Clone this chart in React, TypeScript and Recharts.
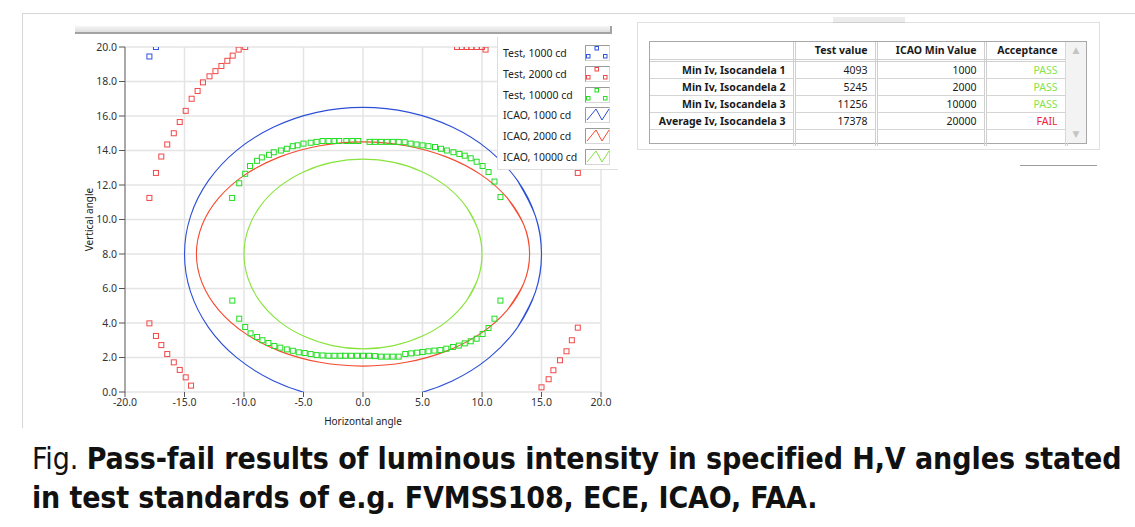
import { ComposedChart, Scatter, Line, XAxis, YAxis, CartesianGrid, Legend } from 'recharts';

// axis ticks
const xTicks = [-20, -15, -10, -5, 0, 5, 10, 15, 20];
const yTicks = [0, 2, 4, 6, 8, 10, 12, 14, 16, 18, 20];

// measured test points [horizontal, vertical]
const test1000: [number, number][] = [
  [-17.95, 19.45], [-17.4, 20.0],
];

const test2000: [number, number][] = [
  [-17.95, 11.25], [-17.4, 12.7], [-16.95, 13.65], [-16.45, 14.35], [-15.9, 15.0], [-15.4, 15.65],
  [-14.9, 16.3], [-14.4, 17.0], [-13.9, 17.45], [-13.45, 17.95], [-12.9, 18.3], [-12.4, 18.6],
  [-11.9, 18.9], [-11.4, 19.2], [-10.95, 19.5], [-10.45, 19.85], [-9.9, 20.0],
  [7.9, 20.0], [8.3, 20.0], [8.7, 20.0], [9.1, 20.0], [9.55, 20.0], [10.0, 20.0], [10.3, 19.85],
  [18.05, 12.7],
  [-17.95, 3.98], [-17.4, 3.25], [-16.95, 2.72], [-16.45, 2.2], [-15.9, 1.72], [-15.4, 1.28],
  [-14.9, 0.85], [-14.45, 0.37],
  [18.05, 3.73], [17.55, 3.0], [17.1, 2.36], [16.55, 1.84], [16.0, 1.26], [15.6, 0.74], [15.0, 0.27],
];

const test10000: [number, number][] = [
  [-11.0, 11.25], [-10.4, 12.1], [-9.9, 12.65], [-9.5, 13.1], [-8.9, 13.4], [-8.5, 13.6],
  [-7.9, 13.75], [-7.5, 13.9], [-6.9, 14.0], [-6.4, 14.1], [-5.9, 14.25], [-5.5, 14.3],
  [-5.0, 14.4], [-4.4, 14.45], [-3.9, 14.5], [-3.4, 14.55], [-2.9, 14.55], [-2.4, 14.55],
  [-2.0, 14.55], [-1.4, 14.55], [-0.9, 14.55], [-0.4, 14.55], [0.55, 14.5], [1.0, 14.5],
  [1.5, 14.5], [2.0, 14.5], [2.5, 14.5], [3.0, 14.5], [3.5, 14.48], [4.0, 14.4], [4.5, 14.35],
  [5.0, 14.3], [5.5, 14.25], [6.05, 14.2], [6.55, 14.1], [7.05, 14.0], [7.6, 13.9], [8.1, 13.8],
  [8.55, 13.7], [9.05, 13.55], [9.55, 13.35], [10.05, 13.1], [10.55, 12.75], [11.05, 12.2],
  [11.55, 11.3],
  [-10.98, 5.3], [-10.4, 4.25], [-9.9, 3.77], [-9.45, 3.4], [-8.9, 3.19], [-8.45, 3.0],
  [-7.95, 2.84], [-7.45, 2.67], [-6.95, 2.57], [-6.4, 2.47], [-5.9, 2.39], [-5.4, 2.3],
  [-4.9, 2.26], [-4.4, 2.2], [-3.9, 2.14], [-3.4, 2.12], [-2.9, 2.1], [-2.4, 2.1], [-1.9, 2.1],
  [-1.5, 2.1], [-1.0, 2.1], [-0.5, 2.1], [0.0, 2.1], [0.5, 2.1], [1.0, 2.08], [1.5, 2.05],
  [2.0, 2.05], [2.5, 2.05], [3.0, 2.05], [3.55, 2.2], [4.05, 2.24], [4.55, 2.28], [5.0, 2.32],
  [5.5, 2.36], [6.0, 2.4], [6.5, 2.43], [7.0, 2.51], [7.55, 2.61], [8.05, 2.69], [8.55, 2.82],
  [9.05, 2.94], [9.55, 3.09], [10.05, 3.36], [10.55, 3.71], [11.05, 4.25], [11.55, 5.3],
];

// ICAO isocandela outlines, read around the curve (the loop overlaps a little at the right side)
const icao1000: [number, number][] = [
  [12.99, 3.75], [14.49, 5.8], [15, 8], [14.49, 10.2], [12.99, 12.25], [10.61, 14.01], [7.5, 15.36],
  [3.88, 16.21], [0, 16.5], [-3.88, 16.21], [-7.5, 15.36], [-10.61, 14.01], [-12.99, 12.25],
  [-14.49, 10.2], [-15, 8], [-14.49, 5.8], [-12.99, 3.75], [-10.61, 1.99], [-7.5, 0.64],
  [-3.88, -0.21], [0, -0.5], [3.88, -0.21], [7.5, 0.64], [10.61, 1.99], [12.99, 3.75],
  [14.49, 5.8], [15, 8], [14.49, 10.2], [12.99, 12.25],
];

const icao2000: [number, number][] = [
  [12.12, 4.75], [13.52, 6.32], [14, 8], [13.52, 9.68], [12.12, 11.25], [9.9, 12.6], [7, 13.63],
  [3.63, 14.28], [0, 14.5], [-3.63, 14.28], [-7, 13.63], [-9.9, 12.6], [-12.12, 11.25],
  [-13.52, 9.68], [-14, 8], [-13.52, 6.32], [-12.12, 4.75], [-9.9, 3.4], [-7, 2.37],
  [-3.63, 1.72], [0, 1.5], [3.63, 1.72], [7, 2.37], [9.9, 3.4], [12.12, 4.75],
  [13.52, 6.32], [14, 8], [13.52, 9.68], [12.12, 11.25],
];

const icao10000: [number, number][] = [
  [8.66, 5.25], [9.66, 6.58], [10, 8], [9.66, 9.42], [8.66, 10.75], [7.07, 11.89], [5, 12.76],
  [2.59, 13.31], [0, 13.5], [-2.59, 13.31], [-5, 12.76], [-7.07, 11.89], [-8.66, 10.75],
  [-9.66, 9.42], [-10, 8], [-9.66, 6.58], [-8.66, 5.25], [-7.07, 4.11], [-5, 3.24],
  [-2.59, 2.69], [0, 2.5], [2.59, 2.69], [5, 3.24], [7.07, 4.11], [8.66, 5.25],
  [9.66, 6.58], [10, 8], [9.66, 9.42], [8.66, 10.75],
];

const seriesNames = ['Test, 1000 cd', 'Test, 2000 cd', 'Test, 10000 cd', 'ICAO, 1000 cd', 'ICAO, 2000 cd', 'ICAO, 10000 cd'];
const seriesColors = ['#2f52e0', '#f04848', '#22dd22', '#2c4fd6', '#f54b30', '#88e43c'];

// result table
const tableHeaders = ['', 'Test value', 'ICAO Min Value', 'Acceptance'];
const rowLabels = ['Min Iv, Isocandela 1', 'Min Iv, Isocandela 2', 'Min Iv, Isocandela 3', 'Average Iv, Isocandela 3'];
const testValues = [4093, 5245, 11256, 17378];
const icaoMinValues = [1000, 2000, 10000, 20000];
const acceptance = ['PASS', 'PASS', 'PASS', 'FAIL'];

const toPoints = (arr: [number, number][]) => arr.map(([x, y]) => ({ x, y }));

const uiFont = "'Noto Sans', 'DejaVu Sans', sans-serif";
const captionFont = "'DejaVu Sans Condensed', 'Liberation Sans Narrow', 'Roboto', sans-serif";

const squareShape = (color: string) => (props: any) => {
  const { cx, cy } = props;
  if (cx == null || cy == null) return <g />;
  return <rect x={cx - 2.5} y={cy - 2.5} width={5} height={5} fill="none" stroke={color} strokeWidth={1} />;
};

const LegendIcon = ({ index }: { index: number }) => {
  const color = seriesColors[index];
  return (
    <svg width={25} height={16} style={{ display: 'block' }}>
      <rect x={0.5} y={0.5} width={24} height={15} fill="#fff" stroke="#d6d6d6" />
      <path d="M0.5 15.5 V0.5 H24.5" fill="none" stroke="#9a9a9a" />
      {index < 3 ? (
        <g fill="none" stroke={color} strokeWidth={1}>
          <rect x={10} y={1.5} width={3.5} height={3.5} />
          <rect x={1.5} y={9.5} width={3.5} height={3.5} />
          <rect x={18.5} y={9.5} width={3.5} height={3.5} />
        </g>
      ) : (
        <polyline points="2,13 11,2 17,13 24,2" fill="none" stroke={color} strokeWidth={1} />
      )}
    </svg>
  );
};

const LegendBox = () => (
  <div style={{ width: 121, height: 133, background: '#fff', borderLeft: '1px solid #dedede', borderBottom: '1px solid #dedede', boxSizing: 'border-box', paddingTop: 6 }}>
    {seriesNames.map((name, i) => (
      <div key={name} style={{ display: 'flex', alignItems: 'center', height: 20.7, position: 'relative' }}>
        <span style={{ position: 'absolute', left: 5, fontFamily: uiFont, fontSize: 10.5, color: '#222', whiteSpace: 'nowrap' }}>{name}</span>
        <span style={{ position: 'absolute', left: 87 }}><LegendIcon index={i} /></span>
      </div>
    ))}
  </div>
);

const YLabel = (props: any) => {
  const vb = props.viewBox || { x: 85, y: 47, height: 345 };
  const cx = vb.x + 4;
  const cy = vb.y + vb.height / 2;
  return (
    <text x={cx} y={cy} transform={`rotate(-90, ${cx}, ${cy})`} textAnchor="middle" dominantBaseline="central" fontSize={10} fill="#222" fontFamily={uiFont}>
      Vertical angle
    </text>
  );
};

const cellBase: React.CSSProperties = {
  fontFamily: uiFont,
  fontSize: 10.5,
  color: '#1a1a1a',
  textAlign: 'right',
  padding: '0 7px 0 0',
  borderRight: '3px double #cfcfcf',
  borderBottom: '1px solid #d4d4d4',
  whiteSpace: 'nowrap',
  overflow: 'hidden',
  height: 16,
  lineHeight: '16px',
};

export default function App() {
  const colWidths = [144, 82, 109, 81];
  return (
    <div style={{ position: 'fixed', left: 0, top: 0, width: 1135, height: 527, background: '#fff', overflow: 'hidden' }}>
      {/* panel frame */}
      <div style={{ position: 'absolute', left: 22, top: 13, width: 1113, borderTop: '1px solid #d6d6d6' }} />
      <div style={{ position: 'absolute', left: 22, top: 13, height: 415, borderLeft: '1px solid #d6d6d6' }} />
      <div style={{ position: 'absolute', left: 75, top: 26, width: 535, height: 6, background: 'linear-gradient(#f6f6f6, #dedede)', borderBottom: '2px solid #a3a3a3', borderRight: '2px solid #a3a3a3' }} />

      <div style={{ position: 'absolute', left: 0, top: 0 }}>
        <ComposedChart width={640} height={432} margin={{ top: 47, right: 39, bottom: 5, left: 85 }}>
          <CartesianGrid stroke="#e4e4e4" strokeWidth={1.5} />
          <XAxis
            type="number"
            dataKey="x"
            domain={[-20, 20]}
            ticks={xTicks}
            tickFormatter={(v: number) => v.toFixed(1)}
            height={35}
            axisLine={false}
            tickLine={{ stroke: '#555' }}
            tickSize={5}
            tick={{ fontSize: 10.5, fill: '#333', fontFamily: uiFont }}
            label={{ value: 'Horizontal angle', position: 'insideBottom', offset: 2, fontSize: 10, fill: '#222', fontFamily: uiFont }}
          />
          <YAxis
            type="number"
            dataKey="y"
            domain={[0, 20]}
            ticks={yTicks}
            allowDataOverflow
            tickFormatter={(v: number) => v.toFixed(1)}
            width={40}
            axisLine={{ stroke: '#a9a9a9', strokeWidth: 2 }}
            tickLine={{ stroke: '#555' }}
            tickSize={6}
            tick={{ fontSize: 10.5, fill: '#333', fontFamily: uiFont }}
            label={{ content: YLabel }}
          />
          <Legend
            layout="horizontal"
            verticalAlign="middle"
            align="center"
            content={() => <LegendBox />}
            wrapperStyle={{ position: 'absolute', left: 497, top: 37, width: 121, height: 133 }}
          />
          <Line name={seriesNames[3]} data={toPoints(icao1000)} dataKey="y" type="natural" stroke={seriesColors[3]} strokeWidth={1.1} dot={false} activeDot={false} isAnimationActive={false} />
          <Line name={seriesNames[4]} data={toPoints(icao2000)} dataKey="y" type="natural" stroke={seriesColors[4]} strokeWidth={1.1} dot={false} activeDot={false} isAnimationActive={false} />
          <Line name={seriesNames[5]} data={toPoints(icao10000)} dataKey="y" type="natural" stroke={seriesColors[5]} strokeWidth={1.1} dot={false} activeDot={false} isAnimationActive={false} />
          <Scatter name={seriesNames[0]} data={toPoints(test1000)} shape={squareShape(seriesColors[0])} isAnimationActive={false} />
          <Scatter name={seriesNames[1]} data={toPoints(test2000)} shape={squareShape(seriesColors[1])} isAnimationActive={false} />
          <Scatter name={seriesNames[2]} data={toPoints(test10000)} shape={squareShape(seriesColors[2])} isAnimationActive={false} />
        </ComposedChart>
      </div>

      {/* results table panel */}
      <div style={{ position: 'absolute', left: 637, top: 22, width: 463, height: 128, border: '1px solid #e0e0e0', boxSizing: 'border-box' }} />
      <div style={{ position: 'absolute', left: 833, top: 17, width: 72, height: 5, background: '#ececec', borderBottom: '1px solid #cfcfcf' }} />
      <div style={{ position: 'absolute', left: 1020, top: 165, width: 77, height: 1, background: '#9c9c9c' }} />
      <div style={{ position: 'absolute', left: 649, top: 41, width: 438, height: 103, border: '1px solid #a8a8a8', boxSizing: 'border-box', background: '#fff' }}>
        <table style={{ borderCollapse: 'collapse', tableLayout: 'fixed', position: 'absolute', left: 0, top: 0 }}>
          <colgroup>
            {colWidths.map((w, i) => <col key={i} style={{ width: w }} />)}
          </colgroup>
          <tbody>
            <tr>
              {tableHeaders.map((h, i) => (
                <td key={i} style={{ ...cellBase, fontWeight: 700, height: 17, lineHeight: '17px', borderBottom: '3px double #cfcfcf' }}>{h}</td>
              ))}
            </tr>
            {rowLabels.map((label, r) => (
              <tr key={label}>
                <td style={{ ...cellBase, fontWeight: 700 }}>{label}</td>
                <td style={cellBase}>{testValues[r]}</td>
                <td style={cellBase}>{icaoMinValues[r]}</td>
                <td style={{ ...cellBase, color: acceptance[r] === 'PASS' ? '#84e34a' : '#f2213a' }}>{acceptance[r]}</td>
              </tr>
            ))}
            <tr>
              {tableHeaders.map((_, i) => <td key={i} style={{ ...cellBase, borderBottom: 'none' }} />)}
            </tr>
          </tbody>
        </table>
        <div style={{ position: 'absolute', right: 0, top: 0, width: 20, height: 101, background: '#f3f3f3', borderLeft: '1px solid #d8d8d8', fontSize: 9, color: '#c4c4c4', textAlign: 'center', fontFamily: uiFont }}>
          <div style={{ position: 'absolute', top: 1, width: 20 }}>▲</div>
          <div style={{ position: 'absolute', bottom: 3, width: 20 }}>▼</div>
        </div>
      </div>

      {/* caption */}
      <div style={{ position: 'absolute', left: 32, top: 439, width: 1103, fontFamily: captionFont, fontSize: 30, lineHeight: '39px', color: '#111', whiteSpace: 'nowrap' }}>
        <div style={{ letterSpacing: -0.08 }}>Fig. <b>Pass-fail results of luminous intensity in specified H,V angles stated</b></div>
        <div style={{ letterSpacing: -0.15 }}><b>in test standards of e.g. FVMSS108, ECE, ICAO, FAA.</b></div>
      </div>
    </div>
  );
}
